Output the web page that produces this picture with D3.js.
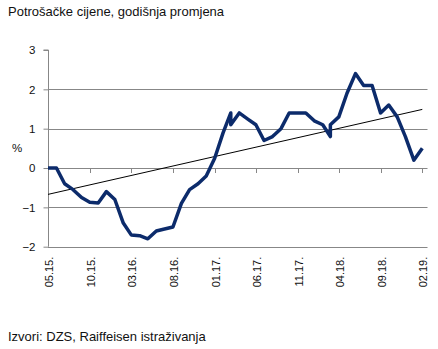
<!DOCTYPE html>
<html>
<head>
<meta charset="utf-8">
<script src="https://cdn.jsdelivr.net/npm/d3@7"></script>
<style>
  html, body { margin: 0; padding: 0; background: #fff; }
  svg { display: block; font-family: "Liberation Sans", Arial, sans-serif; }
</style>
</head>
<body>
<svg id="chart" width="438" height="349"></svg>
<script>
// Consumer prices, annual change (%), monthly observations
const months = [
  "2015-05","2015-06","2015-07","2015-08","2015-09","2015-10","2015-11","2015-12",
  "2016-01","2016-02","2016-03","2016-04","2016-05","2016-06","2016-07","2016-08",
  "2016-09","2016-10","2016-11","2016-12","2017-01","2017-02","2017-03","2017-03",
  "2017-04","2017-05","2017-06","2017-07","2017-08","2017-09","2017-10","2017-11",
  "2017-12","2018-01","2018-02","2018-03","2018-03","2018-04","2018-05","2018-06",
  "2018-07","2018-08","2018-09","2018-10","2018-11","2018-12","2019-01","2019-02"
];
const cpi = [
  0.0, 0.0, -0.4, -0.55, -0.75, -0.87, -0.89, -0.6,
  -0.8, -1.4, -1.7, -1.72, -1.8, -1.6, -1.55, -1.5,
  -0.9, -0.55, -0.4, -0.2, 0.25, 0.9, 1.4, 1.1,
  1.4, 1.25, 1.1, 0.7, 0.8, 1.0, 1.4, 1.4,
  1.4, 1.2, 1.1, 0.8, 1.1, 1.3, 1.9, 2.4,
  2.1, 2.1, 1.4, 1.6, 1.3, 0.8, 0.2, 0.5
];
// Linear trend, value at first and last month
const trend = [-0.67, 1.49];
const yTicks = [-2, -1, 0, 1, 2, 3];
const titleText = "Potrošačke cijene, godišnja promjena";
const sourceText = "Izvori: DZS, Raiffeisen istraživanja";
const unitText = "%";

const parseMonth = d3.utcParse("%Y-%m");
const fmtMonth = d3.utcFormat("%m.%y.");
const data = months.map((m, i) => ({ date: parseMonth(m), value: cpi[i] }));

const svg = d3.select("#chart");
const plot = { left: 48, right: 427.5, top: 50, bottom: 246.7 };
const first = data[0].date, last = data[data.length - 1].date;

const x = d3.scaleUtc().domain([first, last]).range([48, 422.3]);
const y = d3.scaleLinear().domain([-2, 3]).range([plot.bottom, plot.top]);

const grid = "#878787";

// horizontal gridlines (not at the top value)
svg.append("g")
  .selectAll("line")
  .data(yTicks.filter(v => v < 3))
  .join("line")
  .attr("x1", plot.left).attr("x2", plot.right)
  .attr("y1", d => Math.round(y(d)) + 0.5).attr("y2", d => Math.round(y(d)) + 0.5)
  .attr("stroke", grid).attr("stroke-width", 1);

// value axis
const yAxis = svg.append("g")
  .attr("transform", `translate(${plot.left + 0.5},0)`)
  .call(d3.axisLeft(y).tickValues(yTicks).tickSize(5).tickPadding(8).tickFormat(d3.format("d")));
yAxis.select(".domain").attr("stroke", grid).attr("d", `M-5,${plot.top}H0V${plot.bottom}`);
yAxis.selectAll(".tick line").attr("stroke", grid);
yAxis.selectAll(".tick text")
  .attr("font-size", 11.5).attr("fill", "#111")
  .attr("font-family", "Liberation Sans, Arial, sans-serif");

// category axis crossing at zero: tick marks hang from the zero line
const tickDates = d3.utcMonth.range(first, d3.utcMonth.offset(last, 1), 5);
svg.append("g")
  .selectAll("line")
  .data(tickDates)
  .join("line")
  .attr("x1", d => Math.round(x(d)) + 0.5).attr("x2", d => Math.round(x(d)) + 0.5)
  .attr("y1", Math.round(y(0)) + 0.5).attr("y2", Math.round(y(0)) + 5)
  .attr("stroke", grid);

// month labels at the bottom, rotated
svg.append("g")
  .selectAll("text")
  .data(tickDates)
  .join("text")
  .attr("transform", d => `translate(${x(d) + 5},${plot.bottom + 10}) rotate(-90)`)
  .attr("text-anchor", "end")
  .attr("font-size", 11)
  .attr("fill", "#111")
  .text(d => fmtMonth(d));

// trend line
svg.append("line")
  .attr("x1", x(first)).attr("y1", y(trend[0]))
  .attr("x2", x(last)).attr("y2", y(trend[1]))
  .attr("stroke", "#000").attr("stroke-width", 1);

// CPI line
svg.append("path")
  .datum(data)
  .attr("fill", "none")
  .attr("stroke", "#0c2b6b")
  .attr("stroke-width", 3.5)
  .attr("stroke-linejoin", "round")
  .attr("stroke-linecap", "butt")
  .attr("d", d3.line().x(d => x(d.date)).y(d => y(d.value)));

// unit label
svg.append("text")
  .attr("x", 12).attr("y", y(0.5) + 4)
  .attr("font-size", 11.5).attr("fill", "#111")
  .text(unitText);

// title and source
svg.append("text")
  .attr("x", 8).attr("y", 16)
  .attr("font-size", 13).attr("fill", "#111")
  .text(titleText);

svg.append("text")
  .attr("x", 8).attr("y", 341)
  .attr("font-size", 13).attr("fill", "#111")
  .text(sourceText);
</script>
</body>
</html>
